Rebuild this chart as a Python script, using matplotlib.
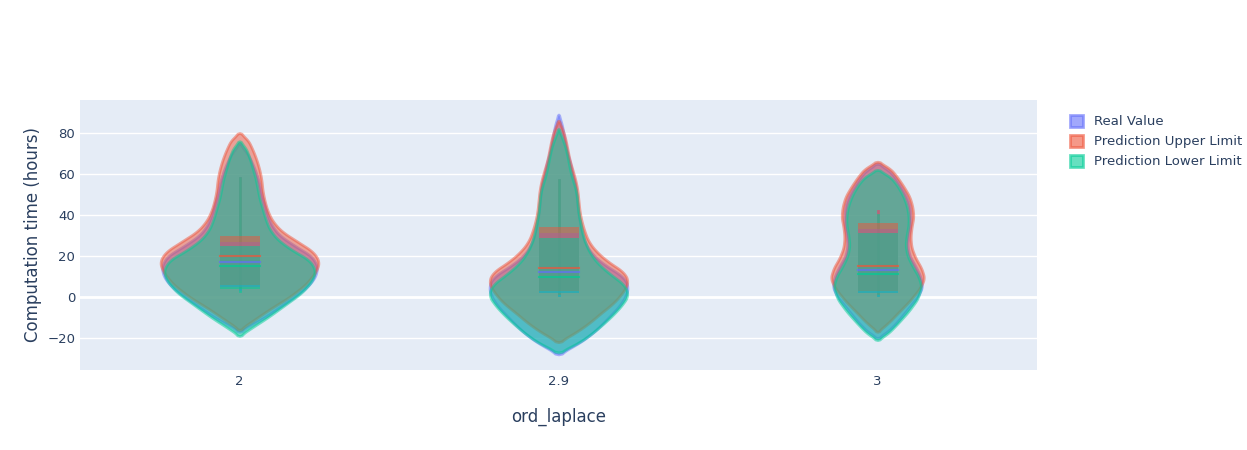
import numpy as np
import matplotlib
matplotlib.use("Agg")
import matplotlib.pyplot as plt
from matplotlib.patches import Patch

categories = ["2", "2.9", "3"]
series = ["Real Value", "Prediction Upper Limit", "Prediction Lower Limit"]
colors = ["#636EFA", "#EF553B", "#00CC96"]

# violin outlines: (value, half-width in px)
profiles = {
 ("2", 0): [(-17,0),(-14,10),(-10,25),(-5,40),(0,55),(5,68),(10,76),(15,78),(20,72),(25,55),(30,40),(35,32),(40,28),(45,25),(50,22),(55,20),(60,17),(65,13),(70,8),(75,0)],
 ("2", 1): [(-16,0),(-12,12),(-6,30),(0,50),(6,66),(12,76),(17,80),(22,74),(27,58),(32,42),(37,33),(42,28),(47,25),(52,23),(57,22),(62,20),(67,17),(72,13),(77,8),(80,0)],
 ("2", 2): [(-19,0),(-15,12),(-10,28),(-4,45),(2,62),(8,73),(13,76),(18,70),(23,52),(28,38),(33,30),(38,26),(43,23),(48,20),(53,18),(58,16),(63,13),(68,10),(73,6),(76,0)],
 ("2.9", 0): [(-28,0),(-24,15),(-20,28),(-15,40),(-10,50),(-5,60),(0,67),(5,70),(10,65),(15,48),(20,35),(25,28),(30,24),(35,22),(40,20),(45,19),(50,18),(55,17),(60,14),(65,12),(70,9),(75,7),(80,5),(85,3),(89,0)],
 ("2.9", 1): [(-22,0),(-18,15),(-13,30),(-8,42),(-3,55),(2,64),(7,70),(12,66),(17,50),(22,38),(27,30),(32,26),(37,23),(42,21),(47,20),(52,19),(57,17),(62,14),(67,11),(72,9),(77,7),(82,4),(86,0)],
 ("2.9", 2): [(-27,0),(-23,18),(-18,33),(-13,45),(-8,56),(-3,65),(1,70),(6,66),(11,52),(16,40),(21,32),(26,27),(31,24),(36,22),(41,20),(46,19),(51,18),(56,15),(61,12),(66,10),(71,8),(76,5),(82,0)],
 ("3", 0): [(-20,0),(-17,10),(-12,20),(-6,30),(0,40),(5,45),(10,43),(15,38),(20,32),(25,30),(30,31),(35,33),(40,33),(45,32),(50,28),(55,22),(60,15),(63,8),(65,0)],
 ("3", 1): [(-17,0),(-13,10),(-8,20),(-2,32),(4,42),(9,47),(14,44),(19,38),(24,34),(29,33),(34,34),(39,36),(44,35),(49,32),(54,26),(59,19),(63,12),(66,0)],
 ("3", 2): [(-21,0),(-18,10),(-13,20),(-7,31),(-1,40),(5,44),(10,41),(15,35),(20,30),(25,28),(30,29),(35,31),(40,31),(45,29),(50,25),(55,19),(59,12),(62,0)],
}
# box stats: q1, median, q3, lower whisker, upper whisker
boxes = {
 ("2", 0): (5, 17, 27, 4, 58), ("2", 1): (6, 20, 30, 5, 58), ("2", 2): (4, 15, 25, 3, 58),
 ("2.9", 0): (2, 12, 31, 1, 57), ("2.9", 1): (3, 14, 34, 2, 57), ("2.9", 2): (2, 10, 29, 1, 57),
 ("3", 0): (2, 13, 33, 1, 42), ("3", 1): (3, 15, 36, 2, 42), ("3", 2): (2, 11, 31, 1, 40),
}

fig = plt.figure(figsize=(12.47, 4.5), dpi=100)
ax = fig.add_axes([80/1247, 80/450, 957/1247, 270/450])
ax.set_facecolor("#E5ECF6")
px = 1/319.0
ax.set_xlim(-0.5, 2.5)
ax.set_ylim(-35.6, 96.1)
ax.set_yticks([-20, 0, 20, 40, 60, 80])
ax.grid(axis="y", color="white", lw=1)
ax.axhline(0, color="white", lw=2)
ax.set_axisbelow(True)
for s in ax.spines.values():
    s.set_visible(False)
ax.tick_params(length=0, labelcolor="#2a3f5f", labelsize=9.5)
ax.set_xticks(range(3))
ax.set_xticklabels(categories)

for ci, c in enumerate(categories):
    for si in range(3):
        pts = np.array(profiles[(c, si)], float)
        yy = np.linspace(pts[0, 0], pts[-1, 0], 300)
        ww = np.interp(yy, pts[:, 0], pts[:, 1])
        k = np.ones(15) / 15
        ww = np.convolve(np.pad(ww, 7, mode="edge"), k, mode="valid")
        ww[0] = ww[-1] = 0
        ax.fill_betweenx(yy, ci - ww*px, ci + ww*px, facecolor=colors[si], alpha=0.5,
                         edgecolor=colors[si], lw=2, zorder=2+si)
    for si in range(3):
        q1, med, q3, lo, hi = boxes[(c, si)]
        ax.plot([ci, ci], [lo, hi], color=colors[si], lw=2, alpha=0.6, zorder=6)
        ax.fill_between([ci-20*px, ci+20*px], q1, q3, color=colors[si], alpha=0.5, lw=0, zorder=7)
        ax.plot([ci-20*px, ci+20*px], [med, med], color=colors[si], lw=1.5, alpha=0.7, zorder=8)

ax.set_xlabel("ord_laplace", color="#2a3f5f", fontsize=12, labelpad=14)
ax.set_ylabel("Computation time (hours)", color="#2a3f5f", fontsize=12)
handles = [Patch(facecolor=col, alpha=0.6, edgecolor=col, lw=2) for col in colors]
fig.legend(handles, series, loc="upper left", bbox_to_anchor=(1058/1247, 1-103/450),
           frameon=False, fontsize=9.5, labelcolor="#2a3f5f", handlelength=1.0, handleheight=1.0)
fig.savefig("out.png")
